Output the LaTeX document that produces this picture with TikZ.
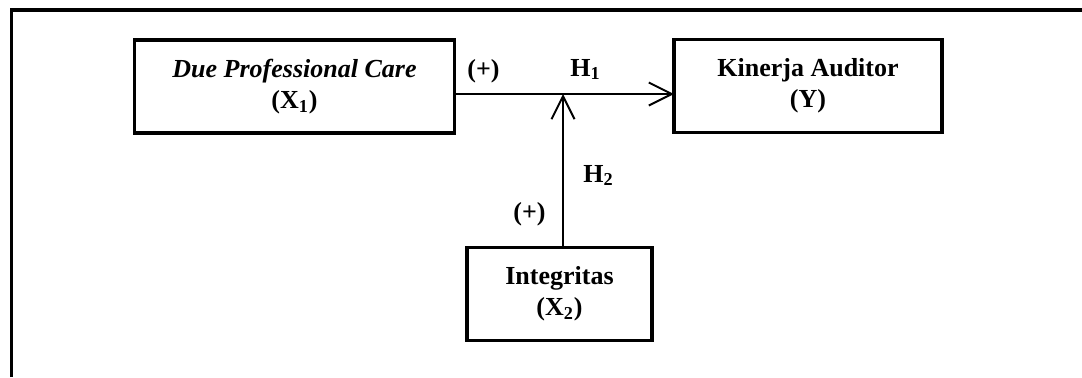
\documentclass[tikz,border=0pt]{standalone}
\usepackage{fontspec}
\setmainfont{Liberation Serif}
\usetikzlibrary{arrows.meta}
\tikzstyle{var}=[draw, line width=1.6pt, align=center,
                 inner sep=0pt, outer sep=0pt,
                 font=\fontsize{13}{15.5}\selectfont\bfseries]
\tikzstyle{link}=[line width=1pt,
                  -{Straight Barb[length=11.5pt,width=11.5pt]}]
\tikzstyle{sign}=[inner sep=0pt, anchor=base west,
                  font=\fontsize{13}{15.5}\selectfont\bfseries]

\begin{document}
\begin{tikzpicture}[x=0.5pt,y=-0.5pt]
    \useasboundingbox (0,0) rectangle (1082,377);
    \draw [line width=1.75pt] (11.5,377) -- (11.5,10) -- (1082,10);

    \node (dpc) at (294.5,86.5) [var, minimum width=160pt, minimum height=46.5pt]
          {\textit{Due Professional Care}\\(X\textsubscript{1})};
    \node (kin) at (808,86) [var, minimum width=134pt, minimum height=46.5pt]
          {Kinerja Auditor\\(Y)};
    \node (integ) at (559.5,294) [var, minimum width=92.5pt, minimum height=46.25pt]
          {Integritas\\(X\textsubscript{2})};
    \coordinate (hub) at (563,94);

    \draw [link] (dpc.east |- hub) -- (kin.west |- hub);
    \draw [link] (integ.north -| hub) -- (hub);

    \node (p1) at (467,77)  [sign] {(+)};
    \node (h1) at (570,76)  [sign] {H\textsubscript{1}};
    \node (h2) at (583,182) [sign] {H\textsubscript{2}};
    \node (p2) at (513,220) [sign] {(+)};
\end{tikzpicture}
\end{document}
